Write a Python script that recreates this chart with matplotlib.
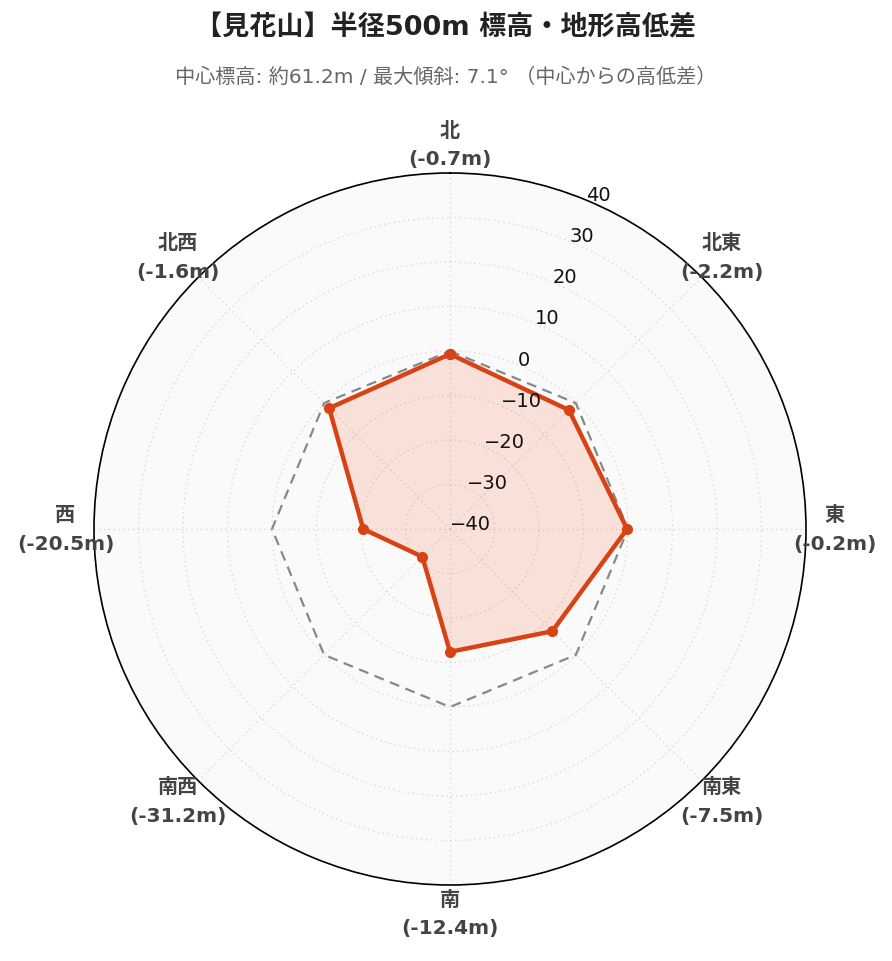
import numpy as np
import matplotlib
matplotlib.use("Agg")
import matplotlib.pyplot as plt

# ---- data ----
directions = ["北", "北東", "東", "南東", "南", "南西", "西", "北西"]
diffs = [-0.7, -2.2, -0.2, -7.5, -12.4, -31.2, -20.5, -1.6]
reference = [0, 0, 0, 0, 0, 0, 0, 0]
r_ticks = [-40, -30, -20, -10, 0, 10, 20, 30, 40]
r_range = (-40, 40)
title = "【見花山】半径500m 標高・地形高低差"
subtitle = "中心標高: 約61.2m / 最大傾斜: 7.1° （中心からの高低差）"

FAM = ["DejaVu Sans", "Noto Sans CJK JP"]
plt.rcParams["font.family"] = FAM

W, H = 892, 962
fig = plt.figure(figsize=(W / 100, H / 100), dpi=100)
cx, cy, R = 450, 530, 356
ax = fig.add_axes([(cx - R) / W, (H - cy - R) / H, 2 * R / W, 2 * R / H], projection="polar")
ax.set_theta_zero_location("N")
ax.set_theta_direction(-1)
ax.set_ylim(*r_range)
ax.set_facecolor("#fafafa")

n = len(directions)
theta = np.deg2rad(np.arange(n) * 360 / n)
tc = np.append(theta, theta[0])

ref = np.append(reference, reference[0])
ax.plot(tc, ref, color="#888888", lw=1.6, ls=(0, (4.5, 3)), zorder=3)

vals = np.append(diffs, diffs[0])
ax.fill(tc, vals, color="#f5633c", alpha=0.17, zorder=2, lw=0)
ax.plot(tc, vals, color="#d84315", lw=3.2, marker="o", ms=7, zorder=4)

ax.set_xticks(theta)
ax.set_xticklabels([])
ax.set_yticks(r_ticks)
ax.set_yticklabels([])
ax.grid(True, color="#d8d8d8", ls=(0, (1, 2.5)), lw=1.0)
ax.spines["polar"].set_color("black")
ax.spines["polar"].set_linewidth(1.2)
ax.tick_params(length=0)

# radial tick labels along 22.5 deg
lab_ang = np.deg2rad(22.5)
for t in r_ticks:
    ax.text(lab_ang, t, f"{t}".replace("-", "\u2212"), ha="left", va="baseline",
            fontsize=14, color="#111111", zorder=5)

# angular labels
for d, v, th in zip(directions, diffs, theta):
    x = 0.5 + 0.54 * np.sin(th)
    y = 0.5 + 0.54 * np.cos(th)
    ax.text(x, y, f"{d}\n({v}m)", transform=ax.transAxes, ha="center", va="center",
            fontsize=14.5, fontweight="bold", color="#444444", linespacing=1.65,
            family=FAM)

fig.text(0.5, 1 - 28 / H, title, ha="center", va="center", fontsize=19.5,
         fontweight="bold", color="#222222", family=FAM)
fig.text(0.5, 1 - 77 / H, subtitle, ha="center", va="center", fontsize=14.5,
         color="#666666", family=FAM)

fig.savefig("out.png", dpi=100, facecolor="white")
